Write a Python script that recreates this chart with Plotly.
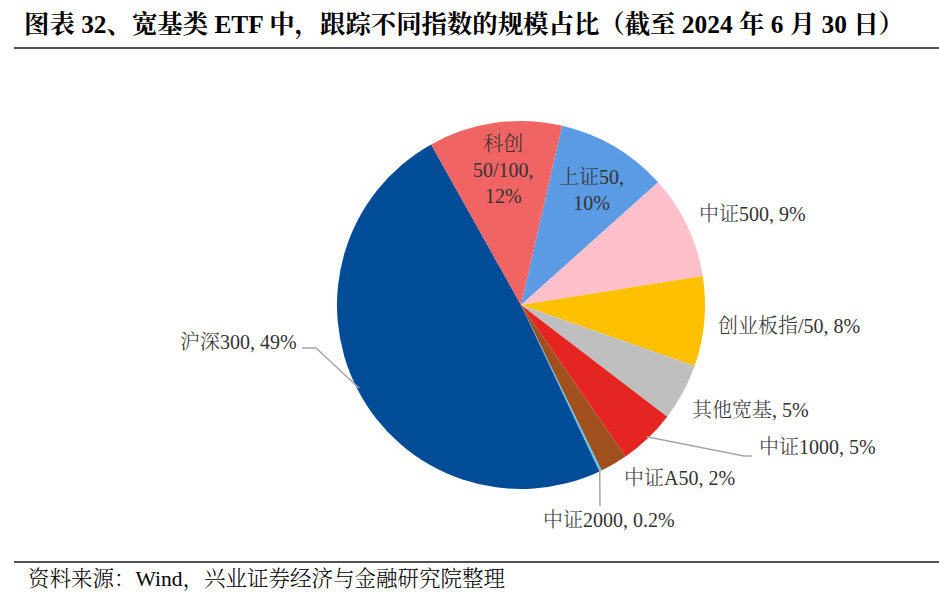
import math
import plotly.graph_objects as go

# data
names = ["上证50", "中证500", "创业板指/50", "其他宽基", "中证1000", "中证A50", "中证2000", "沪深300", "科创50/100"]
values = [9.8, 9.1, 7.9, 5.0, 5.0, 2.4, 0.2, 48.9, 11.7]
pct_labels = ["10%", "9%", "8%", "5%", "5%", "2%", "0.2%", "49%", "12%"]
colors = ["#5B9BE3", "#FFBFCB", "#FFC000", "#BFBFBF", "#E52521", "#A0501C", "#5BC4F0", "#004C97", "#F06464"]

W, H = 939, 612
cx, cy, R = 521, 305, 184
start_angle = 12.9  # degrees clockwise from 12 o'clock

FONT = "Liberation Serif, Noto Serif CJK SC, Noto Sans CJK SC, serif"

fig = go.Figure(go.Pie(
    labels=names, values=values, sort=False, direction="clockwise",
    rotation=start_angle, textinfo="none", hoverinfo="label+percent",
    marker=dict(colors=colors, line=dict(color="white", width=0)),
    domain=dict(x=[(cx - R) / W, (cx + R) / W], y=[1 - (cy + R) / H, 1 - (cy - R) / H]),
    showlegend=False,
))

def px(x):
    return x / W

def py(y):
    return 1 - y / H

# label texts and positions (pixels)
label_pos = {
    "上证50": (591, 190, "center", "上证50,<br>10%"),
    "科创50/100": (503, 170, "center", "科创<br>50/100,<br>12%"),
    "中证500": (697, 214, "left", None),
    "创业板指/50": (716, 326, "left", None),
    "其他宽基": (690, 410, "left", None),
    "中证1000": (757, 447, "left", None),
    "中证A50": (622, 478, "left", None),
    "中证2000": (541, 520, "left", None),
    "沪深300": (299, 342, "right", None),
}

annotations = []
for n, p in zip(names, pct_labels):
    x, y, anchor, txt = label_pos[n]
    if txt is None:
        txt = f"{n}, {p}"
    annotations.append(dict(
        x=px(x), y=py(y), xref="paper", yref="paper", text=txt, showarrow=False,
        xanchor=anchor, yanchor="middle", align="center",
        font=dict(family=FONT, size=20, color="#333333", weight=300),
    ))

# leader lines from slice middles
cum = 0
total = sum(values)
mids = {}
for n, v in zip(names, values):
    mid = start_angle + (cum + v / 2) / total * 360
    mids[n] = mid
    cum += v

def edge(n, r=R):
    a = math.radians(mids[n])
    return cx + r * math.sin(a), cy - r * math.cos(a)

shapes = []
leader = {
    "沪深300": [(302, 348), (316, 348)],
    "中证1000": [(752, 456), (744, 456)],
    "中证2000": [(600, 506)],
}
for n, pts in leader.items():
    ex, ey = edge(n, R - 2)
    path_pts = pts + [(ex, ey)]
    d = "M " + " L ".join(f"{px(a)},{py(b)}" for a, b in path_pts)
    shapes.append(dict(type="path", path=d, xref="paper", yref="paper",
                       line=dict(color="#A6A6A6", width=1.5)))

# rules
shapes.append(dict(type="line", xref="paper", yref="paper", x0=px(14), x1=1, y0=py(48), y1=py(48),
                   line=dict(color="#1a1a1a", width=1.5)))
shapes.append(dict(type="line", xref="paper", yref="paper", x0=px(14), x1=1, y0=py(562), y1=py(562),
                   line=dict(color="#1a1a1a", width=1.5)))

annotations.append(dict(
    x=px(22), y=py(25), xref="paper", yref="paper", xanchor="left", yanchor="middle",
    showarrow=False,
    text="<b>图表 32、宽基类 ETF 中，跟踪不同指数的规模占比（截至 2024 年 6 月 30 日）</b>",
    font=dict(family=FONT, size=25.4, color="#000000"),
))
annotations.append(dict(
    x=px(26), y=py(579), xref="paper", yref="paper", xanchor="left", yanchor="middle",
    showarrow=False,
    text="资料来源：Wind，兴业证券经济与金融研究院整理",
    font=dict(family=FONT, size=21.5, color="#000000", weight=300),
))

fig.update_layout(
    width=W, height=H, margin=dict(l=0, r=0, t=0, b=0),
    paper_bgcolor="white", plot_bgcolor="white",
    annotations=annotations, shapes=shapes,
)

fig.write_html("out.html", post_script="document.body.style.margin='0';",
               config={"displayModeBar": False})
